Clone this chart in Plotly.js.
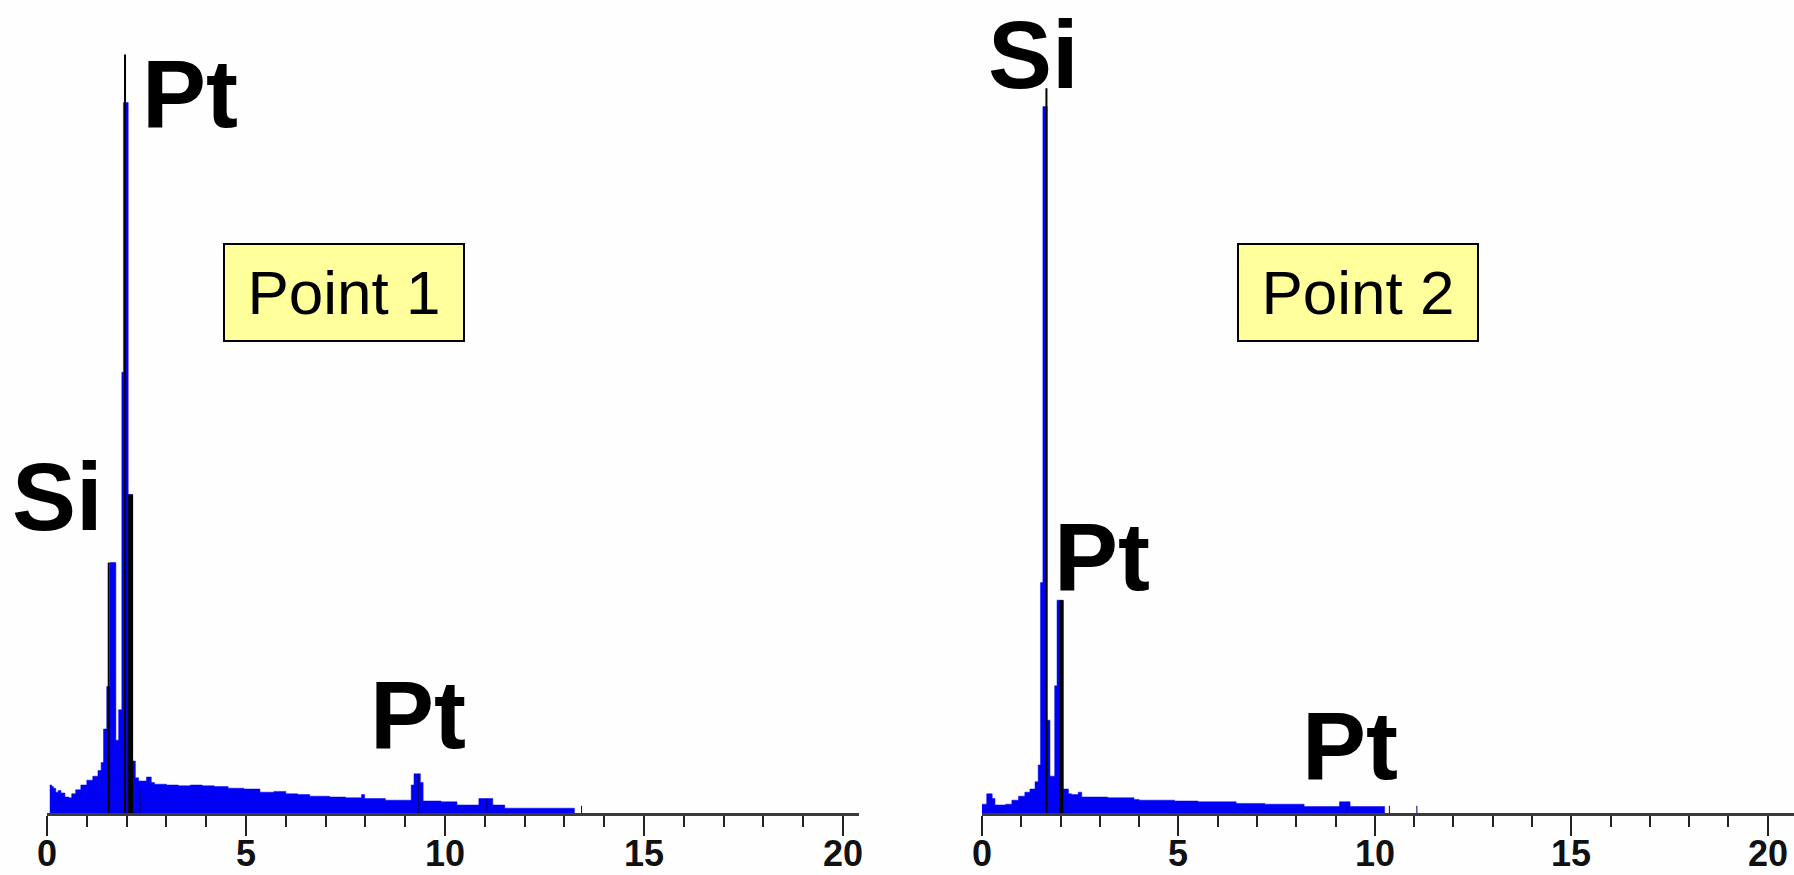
<!DOCTYPE html>
<html>
<head>
<meta charset="utf-8">
<script src="https://cdn.plot.ly/plotly-3.0.1.min.js"></script>
<style>html,body{margin:0;padding:0;background:#fff;}#chart{width:1794px;height:875px;}</style>
</head>
<body>
<div id="chart"></div>
<script>
// ---- Data (energy in keV, intensity in arbitrary counts) ----
const p1Energy = [0.07,0.12,0.16,0.22,0.28,0.35,0.45,0.55,0.62,0.72,0.85,1.0,1.15,1.28,1.36,1.42,1.50,1.58,1.73,1.80,1.88,1.92,2.04,2.15,2.22,2.30,2.50,2.62,2.70,3.0,3.3,3.6,3.9,4.2,4.55,4.95,5.35,5.7,6.0,6.3,6.6,7.1,7.5,7.9,7.98,8.5,9.0,9.15,9.22,9.38,9.45,9.9,10.3,10.85,11.2,11.5,12.2,13.25];
const p1Counts = [35,33,31,26,28,25,20,19,24,29,35,41,46,53,63,105,158,313,91,129,551,888,398,65,44,40,45,38,36,35,34,35,34,33,31,30,26,27,24,23,21,20,19,23,18,16,16,35,49,38,15,14,10,18,10,6,6,0];

const p2Energy = [0.0,0.12,0.26,0.33,0.6,0.76,0.93,1.09,1.22,1.35,1.43,1.49,1.55,1.66,1.73,1.85,1.91,2.07,2.2,2.28,2.45,2.54,3.2,3.87,4.0,4.9,5.5,6.47,7.2,8.2,9.1,9.37,10.25];
const p2Counts = [11,24,18,10,11,16,21,26,30,39,60,288,883,116,46,159,266,30,24,23,26,20,19,17,16,15,14,12,11,8,14,8,0];

// element marker lines: energy, height
const p1MarkE = [1.55,1.96,2.10,2.34,9.33,11.05,13.43];
const p1MarkH = [313,948,398,28,49,18,9];
const p1MarkW = [2,2,5,1,1,1,1];
const p2MarkE = [1.64,2.02,9.3,10.37,11.07];
const p2MarkH = [906,266,14,9,9];
const p2MarkW = [2,4,1,1,1];

const tickVals = [0,5,10,15,20];
const tickText = ['0','5','10','15','20'];

const labels = [
  {text:'Pt', x:190, y:93},
  {text:'Si', x:57, y:496},
  {text:'Pt', x:418, y:714},
  {text:'Si', x:1033, y:null},
  {text:'Pt', x:1102, y:556},
  {text:'Pt', x:1350, y:745}
];
const boxes = [
  {text:'Point 1', x:344, y:292.5},
  {text:'Point 2', x:1358, y:292.5}
];

// ---- Build ----
const W = 1794, H = 875;
const blue = '#0000f5';

function markerTrace(E, Hs, Ws, xa, ya) {
  const traces = [];
  for (let i = 0; i < E.length; i++) {
    traces.push({x:[E[i],E[i]], y:[0,Hs[i]], xaxis:xa, yaxis:ya, mode:'lines',
      line:{color: Ws[i] > 1 ? '#000000' : '#00006a', width:Ws[i]}, hoverinfo:'skip', showlegend:false});
  }
  return traces;
}

const data = [
  {x:p1Energy, y:p1Counts, xaxis:'x', yaxis:'y', mode:'lines', line:{shape:'hv', width:0.5, color:blue},
   fill:'tozeroy', fillcolor:blue, showlegend:false},
  {x:p2Energy, y:p2Counts, xaxis:'x2', yaxis:'y2', mode:'lines', line:{shape:'hv', width:0.5, color:blue},
   fill:'tozeroy', fillcolor:blue, showlegend:false}
].concat(markerTrace(p1MarkE,p1MarkH,p1MarkW,'x','y'))
 .concat(markerTrace(p2MarkE,p2MarkH,p2MarkW,'x2','y2'));

const yDom = [(H-813)/H, (H-13)/H];
function xAxis(domain, range, anchor) {
  return {
    domain: domain, range: range, anchor: anchor,
    showgrid:false, zeroline:false, showline:true, linecolor:'#3a3a3a', linewidth:3,
    tickmode:'array', tickvals:tickVals, ticktext:tickText, showticklabels:false,
    ticks:'outside', ticklen:20, tickwidth:2, tickcolor:'#222',
    minor:{dtick:1, tick0:0, ticks:'outside', ticklen:11, tickwidth:2, tickcolor:'#222', showgrid:false},
    fixedrange:true
  };
}
const yAxis = (anchor) => ({domain:yDom, range:[0,1000], visible:false, anchor:anchor, fixedrange:true});

const tickFont = {family:'"Liberation Sans Narrow", "Arial Narrow", sans-serif', size:36, color:'#111', weight:'bold'};
const tickAnns = [];
['x','x2'].forEach(ax => {
  tickVals.forEach((v, i) => {
    tickAnns.push({text:tickText[i], xref:ax, yref:'paper', x:v, y:0, xanchor:'center', yanchor:'bottom',
      borderpad:0, showarrow:false, font:tickFont});
  });
});

const labelFont = {family:'"Liberation Sans", Arial, sans-serif', size:96, color:'#000', weight:'bold'};
const annotations = labels.map(l => (l.y === null ? {
  text:l.text, xref:'paper', yref:'paper', x:l.x/W, y:1, xanchor:'center', yanchor:'top',
  borderpad:0, showarrow:false, font:labelFont
} : {
  text:l.text, xref:'paper', yref:'paper', x:l.x/W, y:1-l.y/H, xanchor:'center', yanchor:'middle',
  showarrow:false, font:labelFont
})).concat(boxes.map(b => ({
  text:b.text, xref:'paper', yref:'paper', x:b.x/W, y:1-b.y/H, xanchor:'center', yanchor:'middle',
  showarrow:false, bgcolor:'#ffff9c', bordercolor:'#000', borderwidth:2, borderpad:0,
  width:238, height:95,
  font:{family:'"Liberation Sans", Arial, sans-serif', size:62, color:'#000'}
}))).concat(tickAnns);

const layout = {
  width:W, height:H, margin:{l:0,r:0,t:0,b:0},
  paper_bgcolor:'#fefefe', plot_bgcolor:'rgba(0,0,0,0)',
  xaxis: xAxis([47/W, 859/W], [0, 20.4], 'y'),
  yaxis: yAxis('x'),
  xaxis2: xAxis([982/W, 1], [0, 20.67], 'y2'),
  yaxis2: yAxis('x2'),
  annotations: annotations,
  showlegend:false
};

Plotly.newPlot('chart', data, layout, {staticPlot:true, displayModeBar:false});
</script>
</body>
</html>
